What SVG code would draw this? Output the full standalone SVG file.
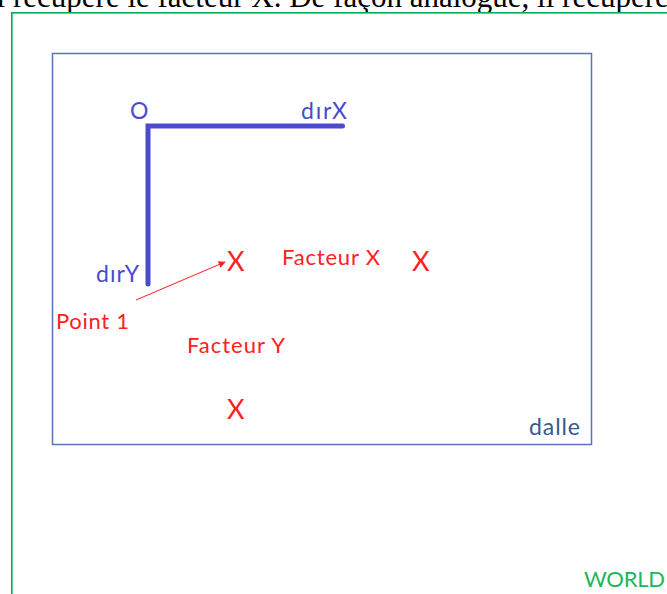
<svg xmlns="http://www.w3.org/2000/svg" width="667" height="594" viewBox="0 0 667 594">
<defs>
<style>
.lbl{font-family:Lato,"Open Sans","Liberation Sans",sans-serif;font-size:22px}
.ax{font-family:Lato,"Open Sans","Liberation Sans",sans-serif;font-size:23px;fill:#4a4ad0}
.mk{font-family:Lato,"Open Sans","Liberation Sans",sans-serif;font-size:27px;fill:#ff2020}
.red{fill:#ff2020}
</style>
<marker id="ah" viewBox="0 0 10 10" refX="9" refY="5" markerWidth="9" markerHeight="7" markerUnits="userSpaceOnUse" orient="auto">
<path d="M0,0 L10,5 L0,10 z" fill="#ff2020"/>
</marker>
</defs>
<rect width="667" height="594" fill="#fff"/>
<text x="-12" y="7" font-family="Liberation Serif,serif" font-size="31" fill="#000">il récupère le facteur X. De façon analogue, il récupère</text>
<g id="world">
<rect x="11.8" y="12.8" width="700" height="700" fill="#fff" stroke="#00b050" stroke-width="1.6"/>
<text x="584" y="587" class="lbl" fill="#1fb55a" textLength="81">WORLD</text>
</g>
<g id="dalle">
<rect x="52.5" y="53.5" width="539" height="391" fill="none" stroke="#5876b0" stroke-width="1.5"/>
<text x="529" y="435" font-family="Lato,'Open Sans',sans-serif" font-size="23" fill="#335b8f" textLength="51">dalle</text>
</g>
<g id="axes">
<path d="M342.5,126 H148 V284" fill="none" stroke="#4b4bd0" stroke-width="5" stroke-linecap="round" stroke-linejoin="miter"/>
<text x="130" y="119" class="ax">O</text>
<text x="301" y="119" class="ax" textLength="46">dırX</text>
<text x="96" y="282" class="ax" textLength="43">dırY</text>
</g>
<g id="point1">
<text x="227" y="271" class="mk">X</text>
<text x="56" y="329" class="lbl red" textLength="73">Point 1</text>
</g>
<g id="facteurX">
<text x="282" y="265" class="lbl red" textLength="98">Facteur X</text>
<text x="412" y="271" class="mk">X</text>
</g>
<g id="facteurY">
<text x="187" y="353" class="lbl red" textLength="98">Facteur Y</text>
<text x="227" y="419" class="mk">X</text>
</g>
<g id="connectors">
<line x1="136" y1="300" x2="225" y2="262" stroke="#ff2020" stroke-width="1" marker-end="url(#ah)"/>
</g>
</svg>
